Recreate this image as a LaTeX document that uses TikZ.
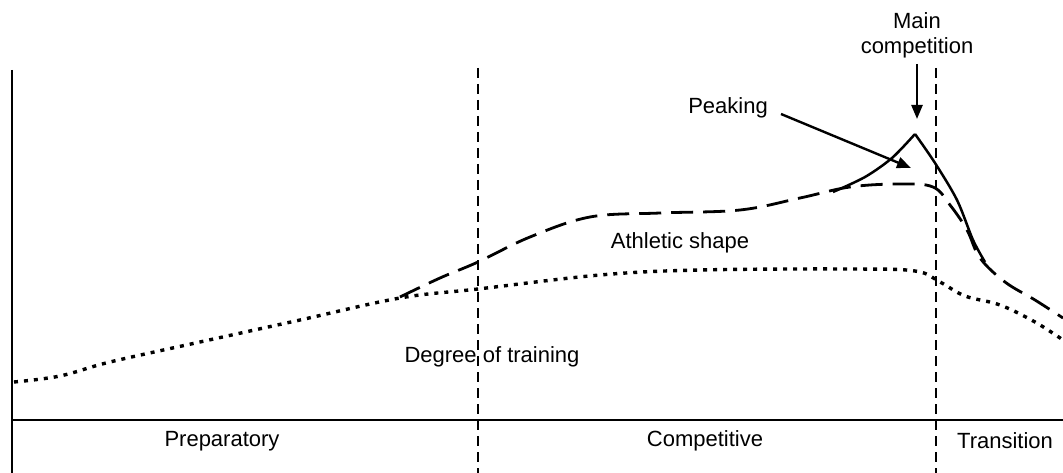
\documentclass[tikz,border=0pt]{standalone}
\usepackage{fontspec}
\setmainfont{Liberation Sans}
\usetikzlibrary{arrows.meta}
\begin{document}
\begin{tikzpicture}[x=1pt,y=-1pt,
  lbl/.style={font=\fontsize{22}{25}\selectfont, inner sep=0pt, align=center},
  axisline/.style={line width=2.6pt},
  phaseline/.style={line width=2.8pt, dash pattern=on 10pt off 6pt},
  shapeline/.style={line width=2.8pt, dash pattern=on 22pt off 10pt},
  trainline/.style={line width=3.4pt, dash pattern=on 4pt off 6pt},
  peakline/.style={line width=2.5pt},
  arr/.style={line width=2.4pt, -{Triangle[length=14pt,width=11pt]}}]
\useasboundingbox (0,0) rectangle (1063,473);
% axes
\coordinate (ytop) at (12,70);
\coordinate (ybot) at (12,473);
\coordinate (xl) at (12,420);
\coordinate (xr) at (1063,420);
\draw[axisline] (ytop) -- (ybot);
\draw[axisline] (xl) -- (xr);
% phase dividers
\coordinate (d1t) at (478,68); \coordinate (d1b) at (478,473);
\coordinate (d2t) at (936,68); \coordinate (d2b) at (936,473);
\draw[phaseline] (d1t) -- (d1b);
\draw[phaseline] (d2t) -- (d2b);
% degree of training
\draw[trainline] plot[smooth, tension=0.6] coordinates {(14,382) (60,376) (110,362) (200,342) (300,320) (400,298) (478,289) (600,275) (700,270) (850,269) (915,271) (940,282) (965,296) (1000,305) (1035,322) (1063,340)};
% athletic shape
\draw[shapeline] plot[smooth, tension=0.6] coordinates {(400,297) (440,278) (478,262) (530,237) (590,217) (660,213) (740,210) (800,198) (850,187) (900,184) (933,187) (950,205) (967,230) (980,258) (1005,282) (1035,300) (1063,318)};
% peaking
\draw[peakline] plot[smooth, tension=0.5] coordinates {(833,192) (865,177) (892,158) (915,134)};
\draw[peakline] plot[smooth, tension=0.5] coordinates {(915,134) (935,163) (957,200) (973,240) (985,262)};
% labels
\node[lbl] (mc) at (917,35) {Main\\competition};
\coordinate (mcb) at (917,64);
\coordinate (mct) at (917,119);
\draw[arr] (mcb) -- (mct);
\node[lbl] (pk) at (728,108) {Peaking};
\coordinate (pks) at (781,114);
\coordinate (pke) at (911,168);
\draw[arr] (pks) -- (pke);
\node[lbl] (as) at (680,243) {Athletic shape};
\node[lbl] (dt) at (492,357) {Degree of training};
\node[lbl] (pr) at (222,441) {Preparatory};
\node[lbl] (co) at (705,441) {Competitive};
\node[lbl] (tr) at (1005,441) {Transition};
\end{tikzpicture}
\end{document}
